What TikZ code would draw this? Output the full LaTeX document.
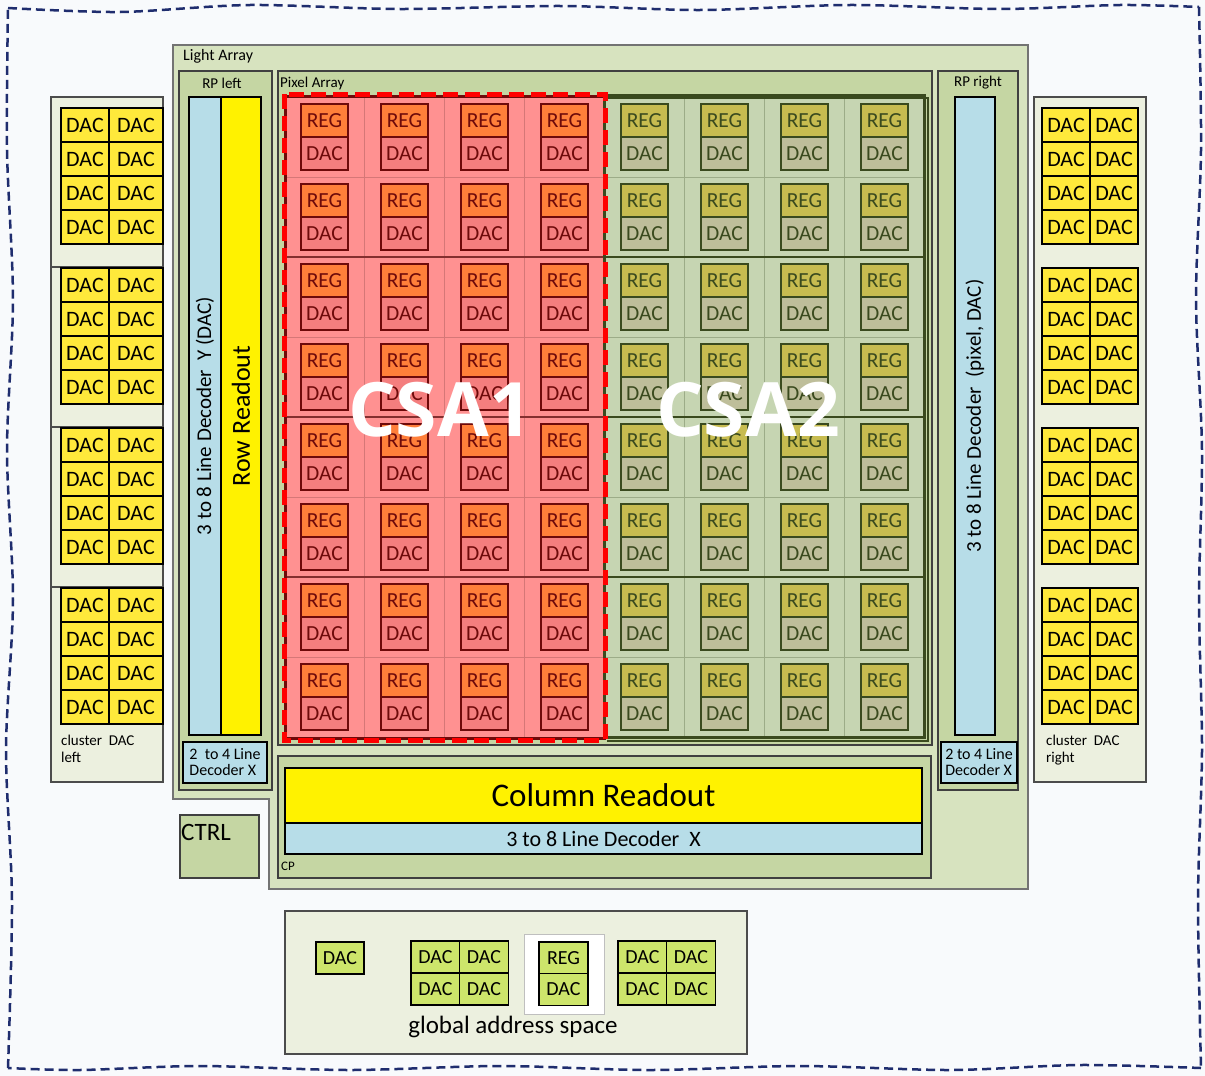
\documentclass[tikz,border=0pt]{standalone}
\usepackage{fontspec}
\setmainfont{Carlito}
\newfontfamily\csafont{Open Sans}
\newcommand{\fsz}[1]{\fontsize{#1}{#1}\selectfont}

\definecolor{bgcol}{HTML}{F8FAFC}
\definecolor{navy}{HTML}{1F2D6E}
\definecolor{lagreen}{HTML}{D7E3BF}
\definecolor{rpgreen}{HTML}{C5D6A3}
\definecolor{clboxcol}{HTML}{ECF0DF}
\definecolor{decblue}{HTML}{B7DDE8}
\definecolor{cldac}{HTML}{FFE93B}
\definecolor{gdac}{HTML}{CDE56B}
\definecolor{redcell}{HTML}{FF9191}
\definecolor{redline}{HTML}{D67777}
\definecolor{redreg}{HTML}{FF7F3A}
\definecolor{reddac}{HTML}{F47E7E}
\definecolor{reddark}{HTML}{6E0A0A}
\definecolor{grcell}{HTML}{C6D5B2}
\definecolor{grline}{HTML}{9CAC88}
\definecolor{grreg}{HTML}{C7BC50}
\definecolor{grdac}{HTML}{BEBE9A}
\definecolor{grdark}{HTML}{3A4A1E}

\begin{document}
\begin{tikzpicture}[x=1pt, y=-1pt,
  wavy/.style={navy, line width=2.5pt, dash pattern=on 9pt off 5pt},
  lafill/.style={fill=lagreen, draw=black!55, line width=1.2pt},
  rpbox/.style={fill=rpgreen, draw=black!75, line width=1.2pt},
  clbox/.style={fill=clboxcol, draw=black!70, line width=1.2pt},
  bluebar/.style={rectangle, fill=decblue, draw=black, line width=2pt, inner sep=0pt},
  yelbar/.style={rectangle, fill=yellow, draw=black, line width=2pt, inner sep=0pt},
  cldaccell/.style={rectangle, fill=cldac, draw=black, line width=2pt, inner sep=0pt,
    minimum height=34, font=\fsz{22}},
  gdaccell/.style={rectangle, fill=gdac, draw=black, line width=1.5pt, inner sep=0pt,
    minimum width=48, minimum height=32, font=\fsz{20}},
  pxcell/.style={rectangle, line width=1.2pt, inner sep=0pt, minimum width=47,
    minimum height=33, font=\fsz{21.5}},
  csaa/.style={pxcell, draw=reddark, text=reddark},
  csab/.style={pxcell, draw=grdark, text=grdark},
  lbl/.style={inner sep=0pt, font=\fsz{16}},
  csalbl/.style={inner sep=0pt, text=white, font=\csafont\bfseries\fsz{75}}]

  % 背景
  \useasboundingbox (0,0) rectangle (1205,1076);
  \fill[bgcol] (0,0) rectangle (1205,1076);
  \draw[wavy] plot[smooth, tension=0.5] coordinates {(8,8) (120,12) (250,5)
    (400,9) (560,6) (700,10) (850,5) (1000,9) (1120,5) (1199,7)};
  \draw[wavy] plot[smooth, tension=0.5] coordinates {(1199,7) (1201,150)
    (1196,300) (1202,450) (1199,600) (1202,750) (1198,900) (1201,1068)};
  \draw[wavy] plot[smooth, tension=0.5] coordinates {(1201,1068) (1080,1065)
    (950,1070) (800,1066) (650,1070) (500,1066) (350,1070) (200,1066)
    (80,1070) (8,1068)};
  \draw[wavy] plot[smooth, tension=0.5] coordinates {(8,1068) (12,900) (6,750)
    (13,600) (7,450) (13,300) (7,150) (8,8)};

  % Light Array
  \draw[lafill] (173,45) -- (1028,45) -- (1028,889) -- (269,889) -- (269,799)
    -- (173,799) -- cycle;
  \node[lbl, anchor=west] (la) at (183,56) {Light Array};

  % RP left
  \draw[rpbox] (179,71) rectangle (272,790);
  \node[lbl, font=\fsz{15}] (rpl) at (222,83) {RP left};
  \node[bluebar, rotate=90, minimum width=638, minimum height=32, font=\fsz{21}]
    (decy) at (205,416) {3 to 8 Line Decoder\ \ Y (DAC)};
  \node[yelbar, rotate=90, minimum width=638, minimum height=40, font=\fsz{26}]
    (rowro) at (241,416) {Row Readout};
  \node[bluebar, minimum width=84, minimum height=41, font=\fsz{16}, align=left]
    (dec24l) at (225,762.5) {2\ \ to 4 Line\\Decoder X};

  % RP right
  \draw[rpbox] (938,71) rectangle (1018,790);
  \node[lbl, font=\fsz{15}] (rpr) at (978,83) {RP right};
  \node[bluebar, rotate=90, minimum width=638, minimum height=40, font=\fsz{21}]
    (decp) at (975,416) {3 to 8 Line Decoder\ \ (pixel, DAC)};
  \node[bluebar, minimum width=76, minimum height=41, font=\fsz{16}, align=left]
    (dec24r) at (979,762.5) {2 to 4 Line\\Decoder X};

  % Pixel Array
  \draw[rpbox] (278,71) rectangle (932,745);
  \node[lbl, font=\fsz{15}, anchor=west] (pa) at (280,84) {Pixel Array};

  % CSA1 像素
  \foreach \i in {0,...,3} {
    \foreach \j in {0,...,7} {
      \pgfmathsetmacro{\xp}{284+80*\i}
      \pgfmathsetmacro{\yp}{97+80*\j}
      \draw[redline, fill=redcell, line width=1pt] (\xp,\yp) rectangle ++(80,80);
      \node[csaa, fill=redreg] (rega-\i-\j) at (\xp+40.5,\yp+23.5) {REG};
      \node[csaa, fill=reddac] (daca-\i-\j) at (\xp+40.5,\yp+56.5) {DAC};
    }
  }
  \foreach \yy in {257,417,577}
    \draw[reddark!85, line width=2.5pt] (284,\yy) -- (604,\yy);
  \draw[reddark, line width=3pt] (285,96) rectangle (604,738);

  % CSA2 像素
  \foreach \i in {4,...,7} {
    \foreach \j in {0,...,7} {
      \pgfmathsetmacro{\xp}{284+80*\i}
      \pgfmathsetmacro{\yp}{97+80*\j}
      \draw[grline, fill=grcell, line width=1pt] (\xp,\yp) rectangle ++(80,80);
      \node[csab, fill=grreg] (regb-\i-\j) at (\xp+40.5,\yp+23.5) {REG};
      \node[csab, fill=grdac] (dacb-\i-\j) at (\xp+40.5,\yp+56.5) {DAC};
    }
  }
  \foreach \yy in {257,417,577}
    \draw[grdark, line width=2.5pt] (604,\yy) -- (924,\yy);
  \draw[grdark, line width=1.5pt] (607,98) -- (928,98) -- (928,741) -- (607,741);
  \draw[grdark, line width=3pt] (604,95) rectangle (924,737);

  \node[csalbl] (csa1) at (440,410) {CSA1};
  \node[csalbl] (csa2) at (748,410) {CSA2};
  \draw[red, line width=5pt, dash pattern=on 15pt off 7pt] (284,94) rectangle (605,740);

  % CP
  \draw[rpbox] (278,756) rectangle (931,878);
  \node[yelbar, minimum width=637, minimum height=55, font=\fsz{33}]
    (colro) at (603.5,795.5) {Column Readout};
  \node[bluebar, minimum width=637, minimum height=31, font=\fsz{22}]
    (decx) at (603.5,838.5) {3 to 8 Line Decoder\ \ X};
  \node[lbl, font=\fsz{13}, anchor=west] (cp) at (281,866) {CP};

  % CTRL
  \draw[rpbox] (180,815) rectangle (259,878);
  \node[lbl, font=\fsz{25}, anchor=west] (ctrl) at (181,832) {CTRL};

  % cluster DAC left
  \foreach \g/\ya/\yb in {0/97/267, 1/267/427, 2/427/587, 3/587/782}
    \draw[clbox] (51,\ya) rectangle (163,\yb);
  \foreach \g in {0,...,3} {
    \foreach \r in {0,...,3} {
      \pgfmathsetmacro{\yp}{125+160*\g+34*\r}
      \node[cldaccell, minimum width=48] (cla-\g-\r) at (85,\yp) {DAC};
      \node[cldaccell, minimum width=54] (clb-\g-\r) at (136,\yp) {DAC};
    }
  }
  \node[lbl, font=\fsz{15}, anchor=north west, align=left] (cll) at (61,735)
    {cluster\ \ DAC\\[2pt]left};

  % cluster DAC right
  \draw[clbox] (1034,97) rectangle (1146,782);
  \foreach \g in {0,...,3} {
    \foreach \r in {0,...,3} {
      \pgfmathsetmacro{\yp}{125+160*\g+34*\r}
      \node[cldaccell, minimum width=48] (clc-\g-\r) at (1066,\yp) {DAC};
      \node[cldaccell, minimum width=48] (cld-\g-\r) at (1114,\yp) {DAC};
    }
  }
  \node[lbl, font=\fsz{15}, anchor=north west, align=left] (clr) at (1046,735)
    {cluster\ \ DAC\\[2pt]right};

  % global address space
  \draw[clbox] (285,911) rectangle (747,1054);
  \node[gdaccell] (g0) at (340,958) {DAC};
  \foreach \c/\cx in {0/435.5, 1/484} {
    \foreach \r/\cy in {0/957, 1/989} {
      \node[gdaccell, minimum width=49] (ga-\c-\r) at (\cx,\cy) {DAC};
      \node[gdaccell, minimum width=49] (gb-\c-\r) at (\cx+207,\cy) {DAC};
    }
  }
  \draw[fill=white, draw=black!25, line width=1pt] (524,934) rectangle (604,1014);
  \node[gdaccell, minimum width=49] (greg) at (563.5,958) {REG};
  \node[gdaccell, minimum width=49] (gdac) at (563.5,989.5) {DAC};
  \node[lbl, font=\fsz{25}] (gas) at (513,1027) {global address space};
\end{tikzpicture}
\end{document}
